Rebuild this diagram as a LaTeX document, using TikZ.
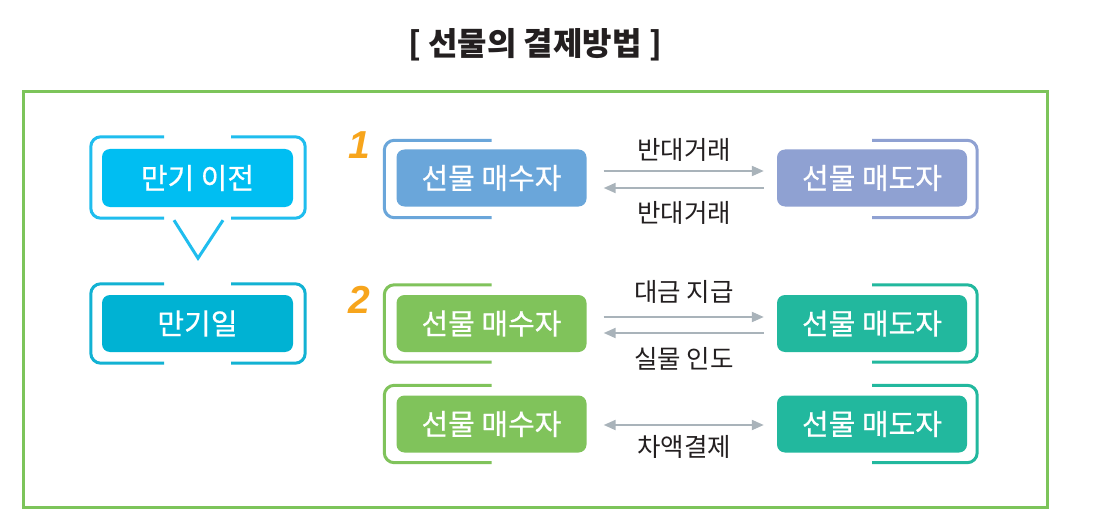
\documentclass[tikz,border=0pt]{standalone}
\usepackage{fontspec}
\setmainfont{Noto Sans CJK KR}
\newfontfamily\boxfont[FakeBold=0.6]{Noto Sans CJK KR}
\newfontfamily\numfont{Liberation Sans}
\usetikzlibrary{arrows.meta,calc}
\definecolor{framegreen}{HTML}{7CC45A}
\definecolor{cyanA}{HTML}{00BEF2}
\definecolor{cyanAbr}{HTML}{1FBDEE}
\definecolor{cyanB}{HTML}{00B2D3}
\definecolor{cyanBbr}{HTML}{12B2D3}
\definecolor{blueBuy}{HTML}{6AA6DA}
\definecolor{blueSell}{HTML}{8FA1D2}
\definecolor{greenBuy}{HTML}{80C35B}
\definecolor{tealSell}{HTML}{22B89E}
\definecolor{arrc}{HTML}{A9B3BA}
\definecolor{txt}{HTML}{231F20}
\definecolor{numorange}{HTML}{F7A51C}
\begin{document}
\begin{tikzpicture}[x=1pt,y=-1pt,
  box/.style={rectangle, rounded corners=8pt, minimum width=190pt, minimum height=57pt, text=white, font=\boxfont\fontsize{29}{34}\selectfont, inner sep=0pt},
  lbl/.style={text=txt, font=\fontsize{25.5}{30}\selectfont, inner sep=0pt},
  arr/.style={draw=arrc, line width=2pt, -{Triangle[length=12pt,width=10pt]}},
  darr/.style={draw=arrc, line width=2pt, {Triangle[length=12pt,width=10pt]}-{Triangle[length=12pt,width=10pt]}},
  brk/.style={line width=3pt, rounded corners=10pt},
  num/.style={text=numorange, font=\numfont\bfseries\itshape\fontsize{39}{44}\selectfont, inner sep=0pt},
]
\useasboundingbox (0,0) rectangle (1109,532);
\fill[white] (0,0) rectangle (1109,532);

% title
\node[text=txt, font=\bfseries\fontsize{32}{38}\selectfont, inner sep=0pt] (title) at (535,45) {[ 선물의 결제방법 ]};

% frame
\draw[framegreen, line width=3pt] (23,92) rectangle (1047,507);

% left column
\node[box, fill=cyanA, minimum width=191pt, minimum height=58pt] (L1) at (197.5,178) {만기 이전};
\node[box, fill=cyanB, minimum width=191pt, minimum height=57pt] (L2) at (197.5,323.5) {만기일};

\draw[brk, cyanAbr] ($(L1.north)+(-33.5,-12)$) -| ($(L1.west)+(-11,0)$) |- ($(L1.south)+(-33.5,11)$);
\draw[brk, cyanAbr] ($(L1.north)+(33.5,-12)$) -| ($(L1.east)+(12,0)$) |- ($(L1.south)+(33.5,11)$);
\draw[cyanAbr, line width=3pt, line join=miter] ($(L1.south)+(-23.5,13)$) coordinate (v1) -- ($(L1.south)+(0.5,51)$) coordinate (v2) -- ($(L1.south)+(25.5,13)$) coordinate (v3);

\draw[brk, cyanBbr] ($(L2.north)+(-33.5,-11)$) -| ($(L2.west)+(-11,0)$) |- ($(L2.south)+(-33.5,11)$);
\draw[brk, cyanBbr] ($(L2.north)+(33.5,-11)$) -| ($(L2.east)+(12,0)$) |- ($(L2.south)+(33.5,11)$);

% row 1
\node[num] (n1) at (359,145) {1};
\node[box, fill=blueBuy] (b1) at (491.5,178) {선물 매수자};
\node[box, fill=blueSell] (s1) at (872,178) {선물 매도자};
\draw[brk, blueBuy] ($(b1.north)+(0,-9)$) -| ($(b1.west)+(-12,0)$) |- ($(b1.south)+(0,11)$);
\draw[brk, blueSell] ($(s1.north)+(0,-9)$) -| ($(s1.east)+(10,0)$) |- ($(s1.south)+(0,11)$);
\draw[arr] ($(b1.east)+(17,-7)$) -- ($(s1.west)+(-13,-7)$);
\draw[arr] ($(s1.west)+(-13,10)$) -- ($(b1.east)+(17,10)$);
\node[lbl] (t1a) at (684,150) {반대거래};
\node[lbl] (t1b) at (684,213) {반대거래};

% row 2
\node[num] (n2) at (359,300) {2};
\node[box, fill=greenBuy] (b2) at (491.5,323.5) {선물 매수자};
\node[box, fill=tealSell] (s2) at (872,323.5) {선물 매도자};
\draw[brk, greenBuy] ($(b2.north)+(0,-10)$) -| ($(b2.west)+(-12,0)$) |- ($(b2.south)+(0,10)$);
\draw[brk, tealSell] ($(s2.north)+(0,-10)$) -| ($(s2.east)+(10,0)$) |- ($(s2.south)+(0,10)$);
\draw[arr] ($(b2.east)+(17,-6.5)$) -- ($(s2.west)+(-13,-6.5)$);
\draw[arr] ($(s2.west)+(-13,9.5)$) -- ($(b2.east)+(17,9.5)$);
\node[lbl] (t2a) at (684,292) {대금 지급};
\node[lbl] (t2b) at (684,359) {실물 인도};

% row 3
\node[box, fill=greenBuy] (b3) at (491.5,424) {선물 매수자};
\node[box, fill=tealSell] (s3) at (872,424) {선물 매도자};
\draw[brk, greenBuy] ($(b3.north)+(0,-10)$) -| ($(b3.west)+(-12,0)$) |- ($(b3.south)+(0,10)$);
\draw[brk, tealSell] ($(s3.north)+(0,-10)$) -| ($(s3.east)+(10,0)$) |- ($(s3.south)+(0,10)$);
\draw[darr] ($(b3.east)+(17,1)$) -- ($(s3.west)+(-13,1)$);
\node[lbl] (t3) at (684,447) {차액결제};
\end{tikzpicture}
\end{document}
